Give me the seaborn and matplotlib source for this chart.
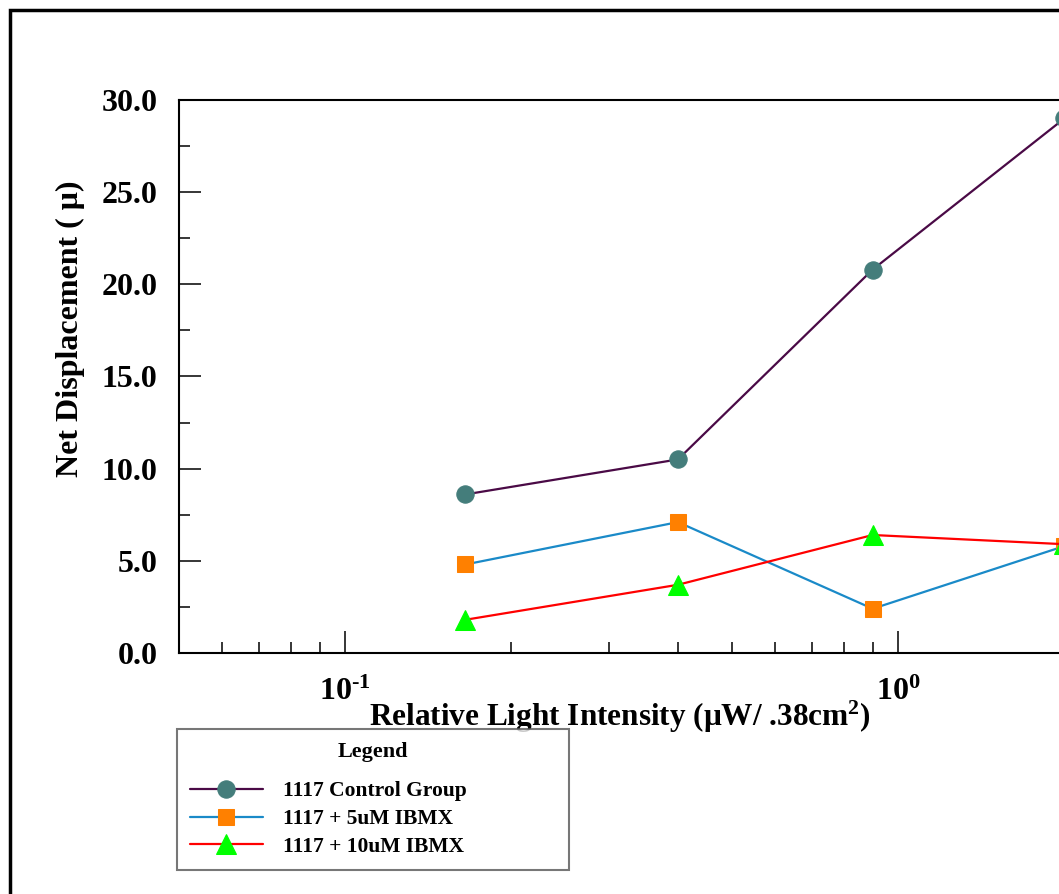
import matplotlib
matplotlib.use("Agg")
import matplotlib.pyplot as plt
import seaborn as sns
from matplotlib.patches import Rectangle
from matplotlib.ticker import LogLocator, FixedLocator, FixedFormatter, NullFormatter

# --- dados ---
intensity = [0.165, 0.4, 0.9, 2.0]
control_group = [8.6, 10.5, 20.8, 29.0]
ibmx_5um = [4.8, 7.1, 2.4, 5.8]
ibmx_10um = [1.8, 3.7, 6.4, 5.9]
series_labels = ["1117 Control Group", "1117 + 5uM IBMX", "1117 + 10uM IBMX"]
y_ticks = [0, 5, 10, 15, 20, 25, 30]
y_tick_labels = ["0.0", "5.0", "10.0", "15.0", "20.0", "25.0", "30.0"]

sns.set_theme(style="ticks")
plt.rcParams['font.family'] = ['Liberation Serif', 'DejaVu Serif']
plt.rcParams['font.weight'] = 'bold'
plt.rcParams['mathtext.default'] = 'regular'
plt.rcParams['text.color'] = 'black'
plt.rcParams['axes.labelcolor'] = 'black'

fig = plt.figure(figsize=(10.59, 8.94), dpi=100)
ax = fig.add_axes([0.1686, 0.2696, 0.9285, 0.6186])

sns.lineplot(x=intensity, y=control_group, ax=ax, color='#4a0a46', lw=1.6,
             marker='o', markersize=12.5, markerfacecolor='#447d7b',
             markeredgecolor='#447d7b', label=series_labels[0], sort=False)
sns.lineplot(x=intensity, y=ibmx_5um, ax=ax, color='#1a8ac8', lw=1.6,
             marker='s', markersize=12, markerfacecolor='#ff8000',
             markeredgecolor='#ff8000', label=series_labels[1], sort=False)
sns.lineplot(x=intensity, y=ibmx_10um, ax=ax, color='#ff0000', lw=1.6,
             marker='^', markersize=14, markerfacecolor='#00ff00',
             markeredgecolor='#00ff00', label=series_labels[2], sort=False)

ax.set_xscale('log')
ax.set_xlim(0.05, 3.0)
ax.set_ylim(0, 30)

# eixo x: 10^-1 e 10^0 com marcas menores
ax.xaxis.set_major_locator(FixedLocator([0.1, 1.0]))
ax.xaxis.set_major_formatter(FixedFormatter(['10$^{\u20101}$', '10$^{0}$']))
ax.xaxis.set_minor_locator(LogLocator(base=10, subs=range(2, 10)))
ax.xaxis.set_minor_formatter(NullFormatter())

ax.set_yticks(y_ticks)
ax.set_yticklabels(y_tick_labels)
ax.set_yticks([2.5, 7.5, 12.5, 17.5, 22.5, 27.5], minor=True)

ax.tick_params(axis='both', which='major', direction='in', length=16, width=1.1,
               labelsize=23, colors='black')
ax.tick_params(axis='both', which='minor', direction='in', length=8, width=1.1,
               colors='black')
ax.tick_params(axis='x', which='major', pad=18)
ax.tick_params(axis='y', which='major', pad=15)
for lbl in ax.get_xticklabels() + ax.get_yticklabels():
    lbl.set_fontweight('bold')

for side in ['left', 'bottom', 'top', 'right']:
    ax.spines[side].set_color('black')
    ax.spines[side].set_linewidth(1.5)

ax.set_ylabel('Net Displacement ( μ)', fontsize=23, fontweight='bold',
              va='center', color='black')
ax.yaxis.set_label_coords(-0.110, 0.586)
ax.set_xlabel('Relative Light Intensity (μW/ .38cm$^2$)', fontsize=22.5,
              fontweight='bold', va='center', color='black')
ax.xaxis.set_label_coords(0.449, -0.116)

leg = ax.legend(title='Legend', loc='upper left',
                bbox_to_anchor=(0.167, 0.0295, 0.37, 0.155),
                bbox_transform=fig.transFigure, mode='expand', borderaxespad=0,
                fontsize=15.5, title_fontsize=16, handlelength=3.4,
                handletextpad=0.95, labelspacing=0.35, borderpad=0.6,
                fancybox=False, frameon=True)
leg._legend_box.sep = 14  # mais espaço entre o título e as entradas
leg.get_frame().set_edgecolor('#555555')
leg.get_frame().set_linewidth(1.5)
leg.get_title().set_fontweight('bold')
leg.get_title().set_color('black')
for t in leg.get_texts():
    t.set_fontweight('bold')
    t.set_color('black')

# moldura da figura
fig.add_artist(Rectangle((10 / 1059, -0.1), 2.0, 1.1 - 10 / 894,
                         transform=fig.transFigure, fill=False,
                         edgecolor='black', linewidth=2.5))

fig.savefig('out.png', dpi=100)
